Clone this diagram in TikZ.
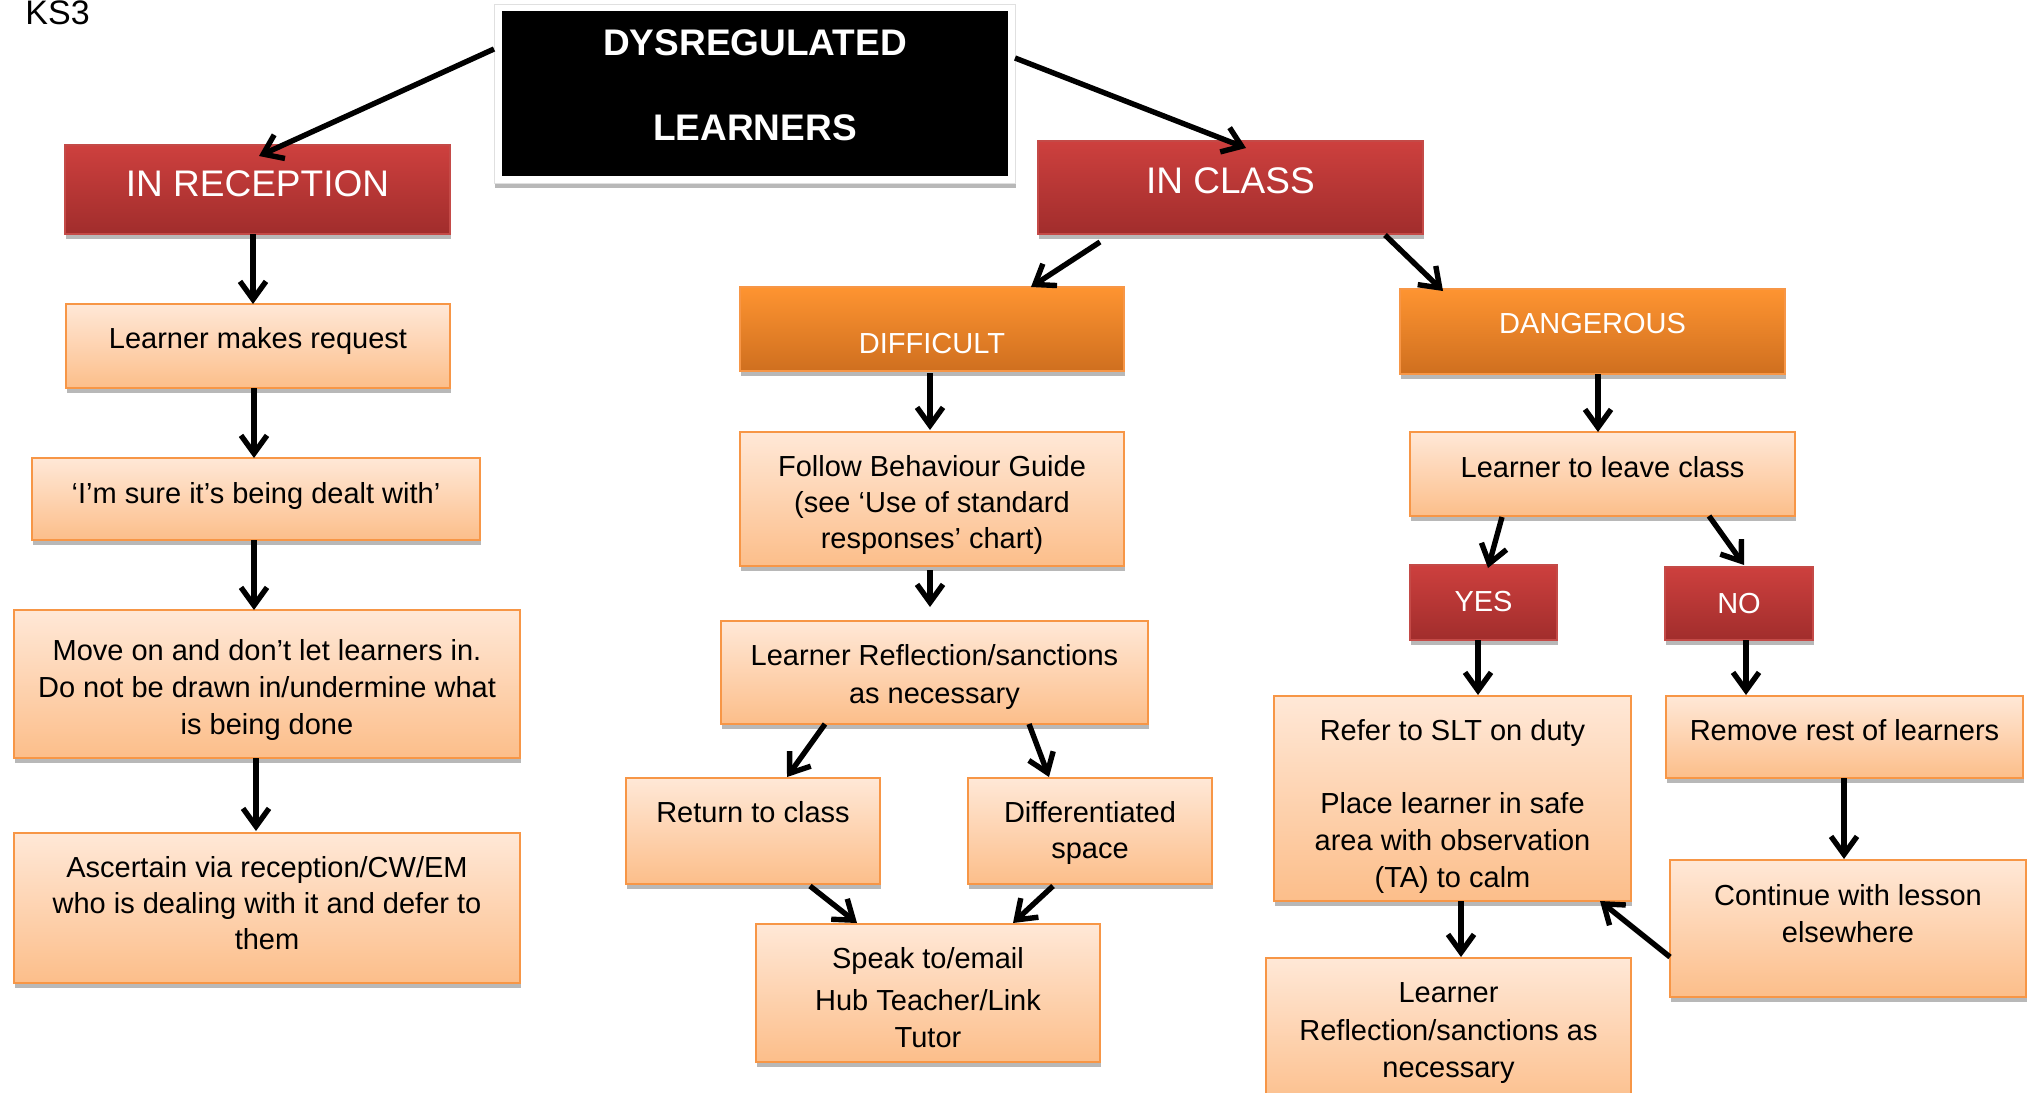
\documentclass[tikz,border=0pt]{standalone}
\usepackage{fontspec}
\setmainfont{Liberation Sans}
\usetikzlibrary{arrows.meta,shadows,calc}
\definecolor{redtop}{HTML}{CD403E}
\definecolor{redbot}{HTML}{A12D2C}
\definecolor{redln}{HTML}{C44A47}
\definecolor{ortop}{HTML}{FE9431}
\definecolor{orbot}{HTML}{CF6F1F}
\definecolor{orln}{HTML}{F79646}
\definecolor{lttop}{HTML}{FFE8D7}
\definecolor{ltbot}{HTML}{FCBE8A}
\newcommand\bx[6]{%
  \pgfmathsetmacro\bxw{(#4-#2)*0.5}\pgfmathsetmacro\bxh{(#5-#3)*0.5}%
  \node[#6, minimum width=\bxw pt, minimum height=\bxh pt] (#1) at ({(#2+#4)/2},{(#3+#5)/2}) {};}
\begin{document}
\begin{tikzpicture}[x=0.5pt,y=-0.5pt,
  box/.style={rectangle, inner sep=0pt, outer sep=0pt},
  shd/.style={drop shadow={shadow xshift=0.6pt,shadow yshift=-2.5pt,opacity=0.28,fill=black}},
  redbox/.style={box,shd,top color=redtop,bottom color=redbot,draw=redln,line width=0.8pt},
  orbox/.style={box,shd,top color=ortop,bottom color=orbot,draw=orln,line width=1pt},
  ltbox/.style={box,shd,top color=lttop,bottom color=ltbot,draw=orln,line width=1.3pt},
  bt/.style={anchor=base,inner sep=0pt,font=\fontsize{14.5}{17}\selectfont},
  ht/.style={anchor=base,inner sep=0pt,text=white,font=\fontsize{18.5}{22}\selectfont},
  st/.style={anchor=base,inner sep=0pt,text=white,font=\fontsize{14.5}{17}\selectfont},
  arr/.style={line width=2.7pt,-{Straight Barb[length=9pt,width=13pt]}}]
\fill[white] (0,0) rectangle (2028,1092);
\useasboundingbox (0,0) rectangle (2028,1092);

\node[anchor=base west,inner sep=0pt,font=\fontsize{17}{20}\selectfont] (ks3) at (25,25) {KS3};

% title
\bx{frm}{494}{4}{1015}{183}{box,shd,fill=white,draw=black!12,line width=0.5pt}
\bx{blk}{502}{11}{1008}{176}{box,fill=black}
\node[ht,font=\bfseries\fontsize{18.5}{22}\selectfont] (t1) at (755,55.5) {DYSREGULATED};
\node[ht,font=\bfseries\fontsize{18.5}{22}\selectfont] (t2) at (755,140.5) {LEARNERS};

% red boxes
\bx{rec}{65}{145}{450}{234}{redbox}
\bx{cls}{1038}{141}{1423}{234}{redbox}
\bx{yes}{1410}{565}{1557}{640}{redbox}
\bx{no}{1665}{567}{1813}{640}{redbox}
\node[ht] (rec-t) at (257.5,196.5) {IN RECEPTION};
\node[ht] (cls-t) at (1230.5,193) {IN CLASS};
\node[st] (yes-t) at (1483.5,611) {YES};
\node[st] (no-t) at (1739,613) {NO};

% orange headers
\bx{dif}{740}{287}{1124}{371}{orbox}
\bx{dan}{1400}{289}{1785}{374}{orbox}
\node[st] (dif-t) at (932,353) {DIFFICULT};
\node[st] (dan-t) at (1592.5,333) {DANGEROUS};

% light boxes
\bx{req}{66}{304}{450}{388}{ltbox}
\bx{sure}{32}{458}{480}{540}{ltbox}
\bx{move}{14}{610}{520}{758}{ltbox}
\bx{asc}{14}{833}{520}{983}{ltbox}
\bx{fol}{740}{432}{1124}{566}{ltbox}
\bx{lrm}{721}{621}{1148}{724}{ltbox}
\bx{ret}{626}{778}{880}{884}{ltbox}
\bx{dsp}{968}{778}{1212}{884}{ltbox}
\bx{spk}{756}{924}{1100}{1062}{ltbox}
\bx{lvc}{1410}{432}{1795}{516}{ltbox}
\bx{ref}{1274}{696}{1631}{901}{ltbox}
\bx{rem}{1666}{696}{2023}{778}{ltbox}
\bx{con}{1670}{860}{2026}{997}{ltbox}
\bx{lrr}{1266}{958}{1631}{1110}{ltbox}

\node[bt] (req-1) at (258,348.5) {Learner makes request};
\node[bt] (sure-1) at (256,503.5) {‘I’m sure it’s being dealt with’};
\node[bt] (move-1) at (267,660.5) {Move on and don’t let learners in.};
\node[bt] (move-2) at (267,697.5) {Do not be drawn in/undermine what};
\node[bt] (move-3) at (267,734.5) {is being done};
\node[bt] (asc-1) at (267,877.5) {Ascertain via reception/CW/EM};
\node[bt] (asc-2) at (267,913.5) {who is dealing with it and defer to};
\node[bt] (asc-3) at (267,949.5) {them};
\node[bt] (fol-1) at (932,476.5) {Follow Behaviour Guide};
\node[bt] (fol-2) at (932,512.5) {(see ‘Use of standard};
\node[bt] (fol-3) at (932,548.5) {responses’ chart)};
\node[bt] (lrm-1) at (934.5,665.5) {Learner Reflection/sanctions};
\node[bt] (lrm-2) at (934.5,703.5) {as necessary};
\node[bt] (ret-1) at (753,822.5) {Return to class};
\node[bt] (dsp-1) at (1090,822.5) {Differentiated};
\node[bt] (dsp-2) at (1090,858.5) {space};
\node[bt] (spk-1) at (928,968.5) {Speak to/email};
\node[bt] (spk-2) at (928,1010.5) {Hub Teacher/Link};
\node[bt] (spk-3) at (928,1047.5) {Tutor};
\node[bt] (lvc-1) at (1602.5,477.5) {Learner to leave class};
\node[bt] (ref-1) at (1452.5,740.5) {Refer to SLT on duty};
\node[bt] (ref-2) at (1452.5,813.5) {Place learner in safe};
\node[bt] (ref-3) at (1452.5,850.5) {area with observation};
\node[bt] (ref-4) at (1452.5,887.5) {(TA) to calm};
\node[bt] (rem-1) at (1844.5,740.5) {Remove rest of learners};
\node[bt] (con-1) at (1848,905.5) {Continue with lesson};
\node[bt] (con-2) at (1848,942.5) {elsewhere};
\node[bt] (lrr-1) at (1448.5,1002.5) {Learner};
\node[bt] (lrr-2) at (1448.5,1040.5) {Reflection/sanctions as};
\node[bt] (lrr-3) at (1448.5,1077.5) {necessary};

% connectors
\draw[arr] ($(frm.north west)+(0,45)$) -- ($(rec.north west)+(194,11)$);
\draw[arr] ($(frm.north east)+(0,54)$) -- ($(cls.north west)+(208,7)$);
\draw[arr] ($(rec.south west)+(188,0)$) -- ($(req.north west)+(187,0)$);
\draw[arr] ($(req.south west)+(188,0)$) -- ($(sure.north west)+(222,0)$);
\draw[arr] ($(sure.south west)+(222,0)$) -- ($(move.north west)+(240,0)$);
\draw[arr] ($(move.south west)+(242,0)$) -- ($(asc.north west)+(242,-2)$);
\draw[arr] ($(cls.south west)+(62,8)$) -- ($(dif.north west)+(291,0)$);
\draw[arr] ($(cls.south west)+(347,1)$) -- ($(dan.north west)+(43,2)$);
\draw[arr] ($(dif.south west)+(190,2)$) -- ($(fol.north west)+(190,-2)$);
\draw[arr] ($(fol.south west)+(190,4)$) -- ($(lrm.north west)+(209,-14)$);
\draw[arr] ($(lrm.south west)+(104,0)$) -- ($(ret.north west)+(161,-1)$);
\draw[arr] ($(lrm.south west)+(308,0)$) -- ($(dsp.north west)+(81,-1)$);
\draw[arr] ($(ret.south west)+(184,2)$) -- ($(spk.north west)+(101,-1)$);
\draw[arr] ($(dsp.south west)+(85,2)$) -- ($(spk.north west)+(257,-1)$);
\draw[arr] ($(dan.south west)+(198,0)$) -- ($(lvc.north west)+(188,0)$);
\draw[arr] ($(lvc.south west)+(92,1)$) -- ($(yes.north west)+(78,3)$);
\draw[arr] ($(lvc.south west)+(299,0)$) -- ($(no.north west)+(79,-2)$);
\draw[arr] ($(yes.south west)+(68,0)$) -- ($(ref.north west)+(204,-1)$);
\draw[arr] ($(no.south west)+(81,0)$) -- ($(rem.north west)+(80,-1)$);
\draw[arr] ($(rem.south west)+(178,0)$) -- ($(con.north west)+(174,-1)$);
\draw[arr] ($(con.north west)+(0,97)$) -- ($(ref.south east)+(-31,0)$);
\draw[arr] ($(ref.south west)+(187,0)$) -- ($(lrr.north west)+(195,-1)$);
\end{tikzpicture}
\end{document}
